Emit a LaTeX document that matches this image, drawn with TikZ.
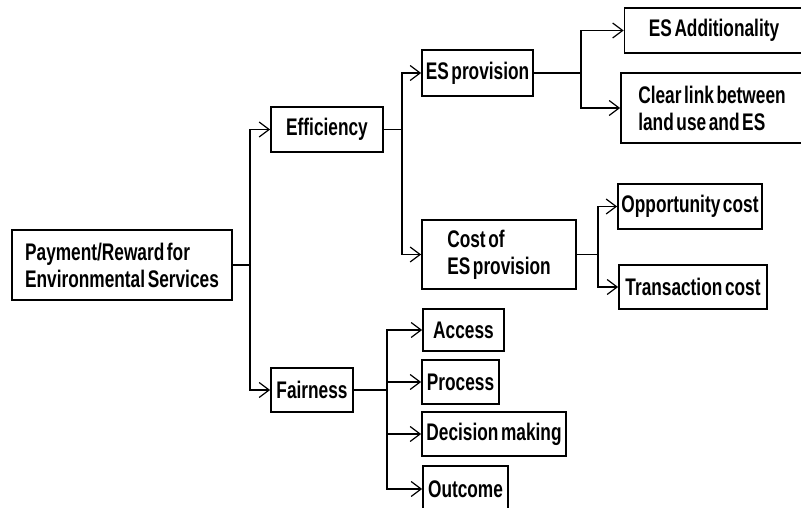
\documentclass[tikz,border=0pt]{standalone}
\usepackage{fontspec}
\setmainfont{Liberation Sans}[FakeStretch=0.72,WordSpace=0.55]
\usetikzlibrary{arrows.meta}

\tikzset{
  box/.style={draw, line width=1.7pt, inner sep=0pt, font=\bfseries\fontsize{24}{27}\selectfont},
  link/.style={line width=1.4pt},
  arr/.style={link, -{Straight Barb[length=10pt, width=15pt, line width=1.2pt]}}
}

\begin{document}
\begin{tikzpicture}[x=1pt, y=-1pt]
\clip (0,0) rectangle (801,508);
\node[box, minimum width=220pt, minimum height=70pt, align=left] (root) at (122,265) {Payment/Reward for\\Environmental Services};
\node[box, minimum width=112pt, minimum height=45pt] (eff) at (327,129.5) {Efficiency};
\node[box, minimum width=82pt, minimum height=44pt] (fair) at (312,390) {Fairness};
\node[box, minimum width=111pt, minimum height=46pt] (es) at (477.5,73) {ES provision};
\node[box, minimum width=154pt, minimum height=69pt, align=left] (cost) at (499,254.5) {Cost of\\ES provision};
\node[box, minimum width=179pt, minimum height=45pt] (add) at (714,30.5) {ES Additionality};
\node[box, minimum width=182pt, minimum height=70pt, align=left] (clear) at (712,108) {Clear link between\\land use and ES};
\node[box, minimum width=144pt, minimum height=45pt] (opp) at (690,206.5) {Opportunity cost};
\node[box, minimum width=148pt, minimum height=44pt] (trans) at (693,287) {Transaction cost};
\node[box, minimum width=81pt, minimum height=42pt] (access) at (463.5,330) {Access};
\node[box, minimum width=77pt, minimum height=44pt] (process) at (460.5,382) {Process};
\node[box, minimum width=144pt, minimum height=44pt] (decision) at (494,434) {Decision making};
\node[box, minimum width=85pt, minimum height=46pt] (outcome) at (465.5,489) {Outcome};

\coordinate (j0) at (250,265);
\coordinate (j1) at (402,129.5);
\coordinate (j2) at (581,73);
\coordinate (j3) at (598,254.5);
\coordinate (j4) at (387,390);

\draw[link] (root.east) -- (j0);
\draw[arr] (j0) |- (eff.west);
\draw[arr] (j0) |- (fair.west);
\draw[link] (eff.east) -- (j1);
\draw[arr] (j1) |- (es.west);
\draw[arr] (j1) |- (cost.west);
\draw[link] (es.east) -- (j2);
\draw[arr] (j2) |- (add.west);
\draw[arr] (j2) |- (clear.west);
\draw[link] (cost.east) -- (j3);
\draw[arr] (j3) |- (opp.west);
\draw[arr] (j3) |- (trans.west);
\draw[link] (fair.east) -- (j4);
\draw[arr] (j4) |- (access.west);
\draw[arr] (j4) |- (process.west);
\draw[arr] (j4) |- (decision.west);
\draw[arr] (j4) |- (outcome.west);
\end{tikzpicture}
\end{document}
